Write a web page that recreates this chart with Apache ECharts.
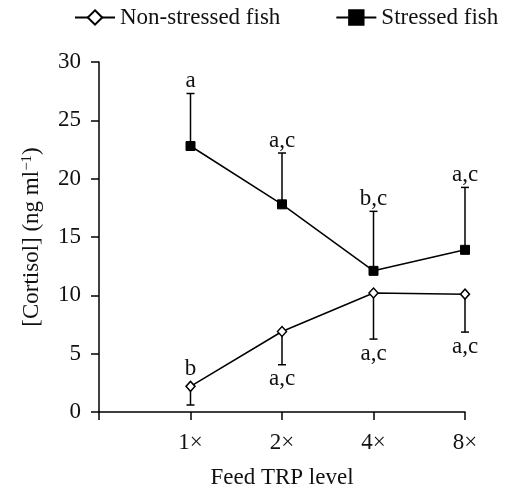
<!DOCTYPE html>
<html>
<head>
<meta charset="utf-8">
<script src="https://cdn.jsdelivr.net/npm/echarts@6/dist/echarts.min.js"></script>
<style>html,body{margin:0;padding:0;background:#fff}#c{width:509px;height:488px}</style>
</head>
<body>
<div id="c"></div>
<script>
// ---- data ----
const categories = ['1×', '2×', '4×', '8×'];
const nonStressed = [2.2, 6.9, 10.2, 10.1];
const nonStressedErr = [1.6, 2.85, 3.95, 3.25];      // error bars drawn downward
const nonStressedLetters = ['b', 'a,c', 'a,c', 'a,c'];
const stressed = [22.8, 17.8, 12.1, 13.9];
const stressedErr = [4.5, 4.4, 5.1, 5.35];           // error bars drawn upward
const stressedLetters = ['a', 'a,c', 'b,c', 'a,c'];
const yTicks = [0, 5, 10, 15, 20, 25, 30];

const FONT = "'Liberation Serif','Times New Roman',serif";
const FS = 23;

const axisCats = [''].concat(categories);
function pairs(arr) { return arr.map((v, i) => [i + 1, v]); }

function errSeries(name, means, errs, letters, dir) {
  return {
    type: 'custom',
    name: name + ' err',
    z: 1,
    silent: true,
    data: means.map((m, i) => [i + 1, m, errs[i]]),
    renderItem: function (params, api) {
      const x = api.value(0), m = api.value(1), e = api.value(2);
      const letter = letters[params.dataIndex];
      const p0 = api.coord([x, m]);
      const endVal = m + dir * e;
      const p1 = api.coord([x, endVal]);
      const cap = 4;
      const children = [
        { type: 'line', shape: { x1: p0[0], y1: p0[1], x2: p1[0], y2: p1[1] }, style: { stroke: '#000', lineWidth: 1.5 } },
        { type: 'line', shape: { x1: p1[0] - cap, y1: p1[1], x2: p1[0] + cap, y2: p1[1] }, style: { stroke: '#000', lineWidth: 1.5 } }
      ];
      let tx = p1[0], ty, va;
      if (dir > 0) { ty = p1[1] - 1; va = 'bottom'; }
      else if (endVal < 1.5) { ty = p0[1] - 6; va = 'bottom'; }
      else { ty = p1[1] + 3; va = 'top'; }
      children.push({ type: 'text', style: { text: letter, x: tx, y: ty, align: 'center', verticalAlign: va, fill: '#111', font: FS + 'px ' + FONT } });
      return { type: 'group', children: children };
    }
  };
}

const chart = echarts.init(document.getElementById('c'), null, { renderer: 'canvas' });
chart.setOption({
  animation: false,
  backgroundColor: '#fff',
  textStyle: { fontFamily: FONT, color: '#111' },
  legend: {
    top: 6, left: 74, width: 435,
    itemWidth: 40, itemHeight: 18, itemGap: 55,
    padding: 0,
    textStyle: { fontFamily: FONT, fontSize: FS, color: '#111' },
    data: ['Non-stressed fish', 'Stressed fish']
  },
  grid: { left: 99, right: 44, top: 62, bottom: 76, outerBoundsMode: 'none', containLabel: false },
  xAxis: {
    type: 'category',
    data: axisCats,
    boundaryGap: false,
    axisLine: { lineStyle: { color: '#000', width: 1.5 } },
    axisTick: { show: true, length: 8, inside: false, lineStyle: { color: '#000', width: 1.5 } },
    axisLabel: { color: '#111', fontFamily: FONT, fontSize: FS, margin: 19 },
    splitLine: { show: false },
    name: 'Feed TRP level',
    nameLocation: 'middle',
    nameGap: 54,
    nameTextStyle: { color: '#111', fontFamily: FONT, fontSize: FS }
  },
  yAxis: {
    type: 'value',
    min: yTicks[0], max: yTicks[yTicks.length - 1], interval: 5,
    axisLine: { show: true, lineStyle: { color: '#000', width: 1.5 } },
    axisTick: { show: true, length: 8, lineStyle: { color: '#000', width: 1.5 } },
    axisLabel: { color: '#111', fontFamily: FONT, fontSize: FS, margin: 18 },
    splitLine: { show: false },
    name: '[Cortisol] (ng ml{sup|−1})',
    nameLocation: 'middle',
    nameRotate: 90,
    nameGap: 56,
    nameTextStyle: {
      color: '#111', fontFamily: FONT, fontSize: FS,
      rich: { sup: { fontSize: 15, fontFamily: FONT, color: '#111', verticalAlign: 'top', lineHeight: 15 } }
    }
  },
  series: [
    errSeries('Non-stressed fish', nonStressed, nonStressedErr, nonStressedLetters, -1),
    errSeries('Stressed fish', stressed, stressedErr, stressedLetters, 1),
    {
      name: 'Non-stressed fish', type: 'line', z: 3,
      data: pairs(nonStressed),
      symbol: 'diamond', symbolSize: [9, 10],
      lineStyle: { color: '#000', width: 1.5 },
      itemStyle: { color: '#fff', borderColor: '#000', borderWidth: 1.5 }
    },
    {
      name: 'Stressed fish', type: 'line', z: 3,
      data: pairs(stressed),
      symbol: 'rect', symbolSize: 9,
      lineStyle: { color: '#000', width: 1.5 },
      itemStyle: { color: '#000', borderColor: '#000', borderWidth: 1 }
    }
  ]
});
</script>
</body>
</html>
